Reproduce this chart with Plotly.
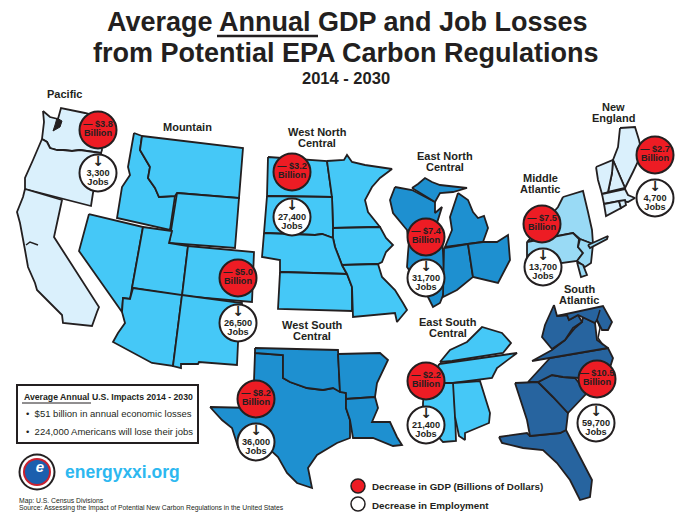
import plotly.graph_objects as go

# regions and their losses
regions = ["Pacific", "Mountain", "West North Central", "East North Central", "Middle Atlantic",
           "New England", "West South Central", "East South Central", "South Atlantic"]
gdp_loss = [3.8, 5.0, 3.2, 7.4, 7.5, 2.7, 8.2, 2.2, 10.5]
job_loss = [3300, 26500, 27400, 31700, 13700, 4700, 36000, 21400, 59700]

# state outlines, in image pixels
WA = [(43,111),(47,115),(50,117),(58,119),(60,113),(61,108),(85,113),(100,117),(102,150),(101,153),(80,150),(72,151),(63,150),(57,150),(50,148),(47,142),(42,139),(43,130),(44,122)]
OR = [(42,139),(47,142),(50,148),(57,150),(63,150),(72,151),(80,150),(101,153),(93,193),(91,206),(25,189),(25,178),(33,160)]
CA = [(25,189),(62,200),(54,237),(99,307),(97,312),(92,326),(63,323),(62,315),(50,303),(37,290),(35,283),(28,267),(25,250),(20,223),(17,212),(23,197)]
ID = [(134,133),(142,136),(140,150),(150,167),(148,178),(155,188),(159,197),(175,196),(170,230),(117,218),(122,187),(130,175),(128,167)]
MT = [(142,136),(243,148),(239,198),(177,193),(175,196),(159,197),(155,188),(148,178),(150,167),(140,150)]
WY = [(177,193),(239,198),(235,248),(169,243)]
NV = [(89,214),(143,227),(132,288),(130,299),(123,298),(122,312),(79,251)]
UT = [(143,227),(172,231),(169,243),(188,246),(182,296),(132,288)]
CO = [(188,246),(254,252),(252,302),(182,296)]
AZ = [(133,288),(182,295),(173,366),(152,363),(113,342),(118,333),(125,323),(122,312),(123,298),(130,299)]
NM = [(182,295),(242,303),(238,343),(237,365),(199,362),(198,364),(181,364),(181,368),(173,366)]
ND = [(268,157),(327,161),(332,197),(267,196)]
MN = [(327,161),(344,160),(347,155),(352,162),(365,165),(392,169),(380,178),(372,187),(365,200),(368,212),(380,227),(333,228),(332,197)]
SD = [(267,196),(332,197),(333,228),(333,238),(322,234),(315,235),(264,233)]
IA = [(333,228),(380,227),(386,238),(393,245),(386,252),(382,262),(378,264),(342,265),(335,247),(333,238)]
NE = [(264,233),(315,235),(322,234),(333,238),(335,247),(342,265),(347,274),(280,272),(280,260),(262,257)]
KS = [(280,272),(347,274),(352,287),(352,311),(278,309)]
MO = [(342,265),(378,264),(382,277),(395,290),(403,303),(407,310),(397,322),(395,313),(353,317),(352,287),(347,274)]
WI = [(395,187),(412,190),(435,202),(435,213),(442,207),(437,223),(437,253),(410,253),(407,230),(393,213),(390,200)]
IL = [(410,230),(442,237),(443,252),(445,290),(440,303),(433,307),(428,297),(407,267),(408,253)]
UP = [(412,188),(418,184),(425,178),(432,182),(440,185),(467,188),(453,192),(440,193),(435,202)]
MI = [(458,193),(468,200),(473,212),(478,218),(484,216),(488,228),(483,242),(445,247),(452,230),(450,217)]
IN = [(444,248),(468,244),(473,277),(457,290),(443,297)]
OH = [(468,244),(483,242),(497,242),(508,235),(510,260),(498,283),(473,277)]
NY = [(563,197),(583,191),(588,212),(592,230),(593,244),(580,239),(573,233),(527,242),(558,207)]
PA = [(527,242),(573,233),(579,239),(578,247),(583,253),(577,261),(533,267),(527,262)]
NJ = [(580,239),(593,244),(591,263),(585,267),(577,261),(583,253),(578,247)]
DL = [(577,262),(583,265),(587,275),(581,277)]
LI = [(588,245),(608,236),(607,239),(590,248)]
ME = [(620,128),(635,127),(639,140),(642,153),(633,172),(625,188),(613,160),(618,147)]
NH = [(613,160),(625,188),(608,192),(612,173)]
VT = [(596,167),(613,160),(612,173),(608,192),(602,194),(598,180)]
MA = [(602,194),(625,189),(628,195),(635,198),(628,202),(620,201),(604,204)]
CT = [(604,204),(619,201),(621,208),(606,216)]
RI = [(619,201),(625,200),(626,205),(621,208)]
TX = [(210,407),(253,408),(255,353),(283,355),(283,378),(290,382),(307,388),(323,390),(333,388),(346,393),(346,408),(350,420),(350,438),(337,443),(317,455),(308,468),(312,488),(297,483),(287,473),(278,457),(263,443),(250,440),(238,447),(232,428),(222,420)]
OK = [(255,348),(338,350),(340,392),(333,388),(323,390),(307,388),(290,382),(283,378),(283,355),(255,353)]
AR = [(338,354),(380,353),(388,360),(377,383),(375,397),(346,399),(346,393),(340,392)]
LA = [(346,399),(375,397),(378,408),(372,422),(390,422),(397,437),(402,445),(393,446),(373,438),(353,438),(350,420),(346,408)]
KY = [(440,362),(450,350),(467,342),(482,327),(502,333),(511,343),(503,353),(452,361)]
TN = [(439,364),(517,353),(497,368),(492,378),(453,383),(433,383)]
MS = [(425,383),(454,383),(456,441),(443,442),(423,420),(423,403)]
AL = [(453,383),(480,381),(490,413),(489,423),(465,433),(465,440),(459,436),(455,417)]
FL = [(499,437),(527,433),(530,436),(560,433),(566,430),(580,457),(592,480),(590,497),(580,500),(570,480),(557,463),(543,450),(523,448),(502,443)]
GA = [(515,383),(538,382),(553,397),(568,413),(566,430),(560,433),(530,436),(527,420)]
SC = [(538,382),(552,375),(563,377),(575,378),(587,393),(568,413),(553,397)]
NC = [(528,382),(550,358),(608,348),(613,358),(607,377),(580,378),(563,377),(552,375),(538,382)]
VA = [(532,361),(552,350),(565,340),(575,328),(582,322),(583,317),(595,323),(597,340),(608,348)]
WV = [(554,305),(557,316),(567,315),(569,320),(578,315),(582,322),(573,328),(565,340),(552,349),(542,337),(545,325)]
MD = [(557,316),(603,306),(612,322),(608,330),(602,330),(597,320),(595,323),(583,317),(578,315),(569,320),(567,315)]

region_states = [
    ("#DAF0FC", [WA, OR, CA]),
    ("#45C8F7", [ID, MT, WY, NV, UT, CO, AZ, NM]),
    ("#45C8F7", [ND, MN, SD, IA, NE, KS, MO]),
    ("#1E90D0", [WI, IL, UP, MI, IN, OH]),
    ("#99DAF5", [NY, PA, NJ, DL, LI]),
    ("#DAF0FC", [ME, NH, VT, MA, CT, RI]),
    ("#1E90D0", [TX, OK, AR, LA]),
    ("#45C8F7", [KY, TN, MS, AL]),
    ("#27649F", [FL, GA, SC, NC, VA, WV, MD]),
]

INK = "#231F20"
FONT = "Liberation Sans"

# badge centres, same order as regions
red_x = [98, 238, 292, 426, 542, 655, 256, 426, 597]
red_y = [130, 278, 172, 237, 224, 155, 399, 381, 379]
white_x = [98, 238, 292, 426, 543, 655, 256, 426, 596]
white_y = [173, 323, 217, 278, 267, 198, 442, 425, 423]

fig = go.Figure()

for color, states in region_states:
    for outline in states:
        xs, ys = zip(*outline)
        fig.add_trace(go.Scatter(x=xs + xs[:1], y=ys + ys[:1], mode="lines", fill="toself",
                                 fillcolor=color, line=dict(color=INK, width=1.8)))

# puget sound, the bay, chesapeake
fig.add_trace(go.Scatter(x=[57, 62, 60, 53, 55, 57], y=[118, 121, 127, 131, 125, 118], mode="lines",
                         fill="toself", fillcolor=INK, line=dict(color=INK, width=1)))
fig.add_trace(go.Scatter(x=[26, 30, 38], y=[245, 242, 245], mode="lines", line=dict(color=INK, width=1.5)))
fig.add_trace(go.Scatter(x=[600, 597, 600, 598, 603], y=[310, 320, 328, 338, 345], mode="lines",
                         line=dict(color=INK, width=1.5)))

fig.add_trace(go.Scatter(x=red_x, y=red_y, mode="markers",
                         marker=dict(size=37, color="#ED1C24", line=dict(color=INK, width=2))))
fig.add_trace(go.Scatter(x=white_x, y=white_y, mode="markers",
                         marker=dict(size=37, color="white", line=dict(color=INK, width=2))))


def badge_text(xs, ys, shift, texts, size=9.2, family=FONT):
    fig.add_trace(go.Scatter(x=xs, y=[y + shift for y in ys], mode="text", text=texts,
                             textposition="middle center",
                             textfont=dict(family=family, size=size, color=INK)))


badge_text(red_x, red_y, -5, [f"<b>— ${v:.1f}</b>" for v in gdp_loss])
badge_text(red_x, red_y, 4, ["<b>Billion</b>"] * len(gdp_loss))
badge_text(white_x, white_y, -11, ["<b>↓</b>"] * len(job_loss), size=14, family="DejaVu Sans")
badge_text(white_x, white_y, 1, [f"<b>{v:,}</b>" for v in job_loss])
badge_text(white_x, white_y, 10, ["<b>Jobs</b>"] * len(job_loss))

# logo
for size, color in [(37, INK), (33, "white"), (28, "#C8202F"), (24, "#1B5FAE")]:
    fig.add_trace(go.Scatter(x=[37], y=[472], mode="markers", marker=dict(size=size, color=color)))
fig.add_trace(go.Scatter(x=[40], y=[468], mode="text", text=["<b><i>e</i></b>"],
                         textfont=dict(family=FONT, size=15, color="white")))

# colour key
fig.add_trace(go.Scatter(x=[358], y=[486], mode="markers",
                         marker=dict(size=14, color="#ED1C24", line=dict(color=INK, width=1.5))))
fig.add_trace(go.Scatter(x=[358], y=[504], mode="markers",
                         marker=dict(size=14, color="white", line=dict(color=INK, width=1.5))))


def label(x, y, text, size, color=INK, anchor="center"):
    fig.add_annotation(x=x, y=y, text=text, showarrow=False, xanchor=anchor, yanchor="middle",
                       font=dict(family=FONT, size=size, color=color))


def region_label(x, y, lines):
    # two line labels sit tighter than plotly's own line height
    for i, line in enumerate(lines):
        label(x, y + i * 10.5, f"<b>{line}</b>", 11)


label(347, 22, "<b>Average Annual GDP and Job Losses</b>", 27)
label(346, 53, "<b>from Potential EPA Carbon Regulations</b>", 27)
label(346, 78, "<b>2014 - 2030</b>", 16.5)

region_label(64, 94, ["Pacific"])
region_label(187, 127, ["Mountain"])
region_label(317, 132, ["West North", "Central"])
region_label(445, 156, ["East North", "Central"])
region_label(540, 178, ["Middle", "Atlantic"])
region_label(613, 107, ["New", "England"])
region_label(579, 289, ["South", "Atlantic"])
region_label(312, 325, ["West South", "Central"])
region_label(448, 322, ["East South", "Central"])

label(22, 397, "<b>Average Annual U.S. Impacts 2014 - 2030</b>", 8.7, anchor="left")
label(24, 413, "•  $51 billion in annual economic losses", 9.5, anchor="left")
label(24, 431, "•  224,000 Americans will lose their jobs", 9.5, anchor="left")

label(63, 472, "<b>energyxxi.org</b>", 17.5, color="#2DB8F0", anchor="left")
label(17, 501, "Map: U.S. Census Divisions", 6.8, anchor="left")
label(17, 508, "Source: Assessing the Impact of Potential New Carbon Regulations in the United States", 6.8, anchor="left")
label(370, 486, "<b>Decrease in GDP (Billions of Dollars)</b>", 9.8, anchor="left")
label(370, 505, "<b>Decrease in Employment</b>", 9.8, anchor="left")

fig.add_shape(type="line", x0=217, x1=318, y0=36, y1=36, line=dict(color=INK, width=2.5))
fig.add_shape(type="rect", x0=17, x1=198, y0=385, y1=443, line=dict(color=INK, width=2))
fig.add_shape(type="line", x0=22, x1=91, y0=403, y1=403, line=dict(color=INK, width=1))

fig.update_xaxes(range=[0, 690], visible=False)
fig.update_yaxes(range=[530, 0], visible=False)
fig.update_layout(width=690, height=530, margin=dict(l=0, r=0, t=0, b=0), showlegend=False,
                  plot_bgcolor="white", paper_bgcolor="white")

fig.write_html("out.html", config={"displayModeBar": False},
               post_script="document.body.style.margin='0';document.body.style.overflow='hidden';")
